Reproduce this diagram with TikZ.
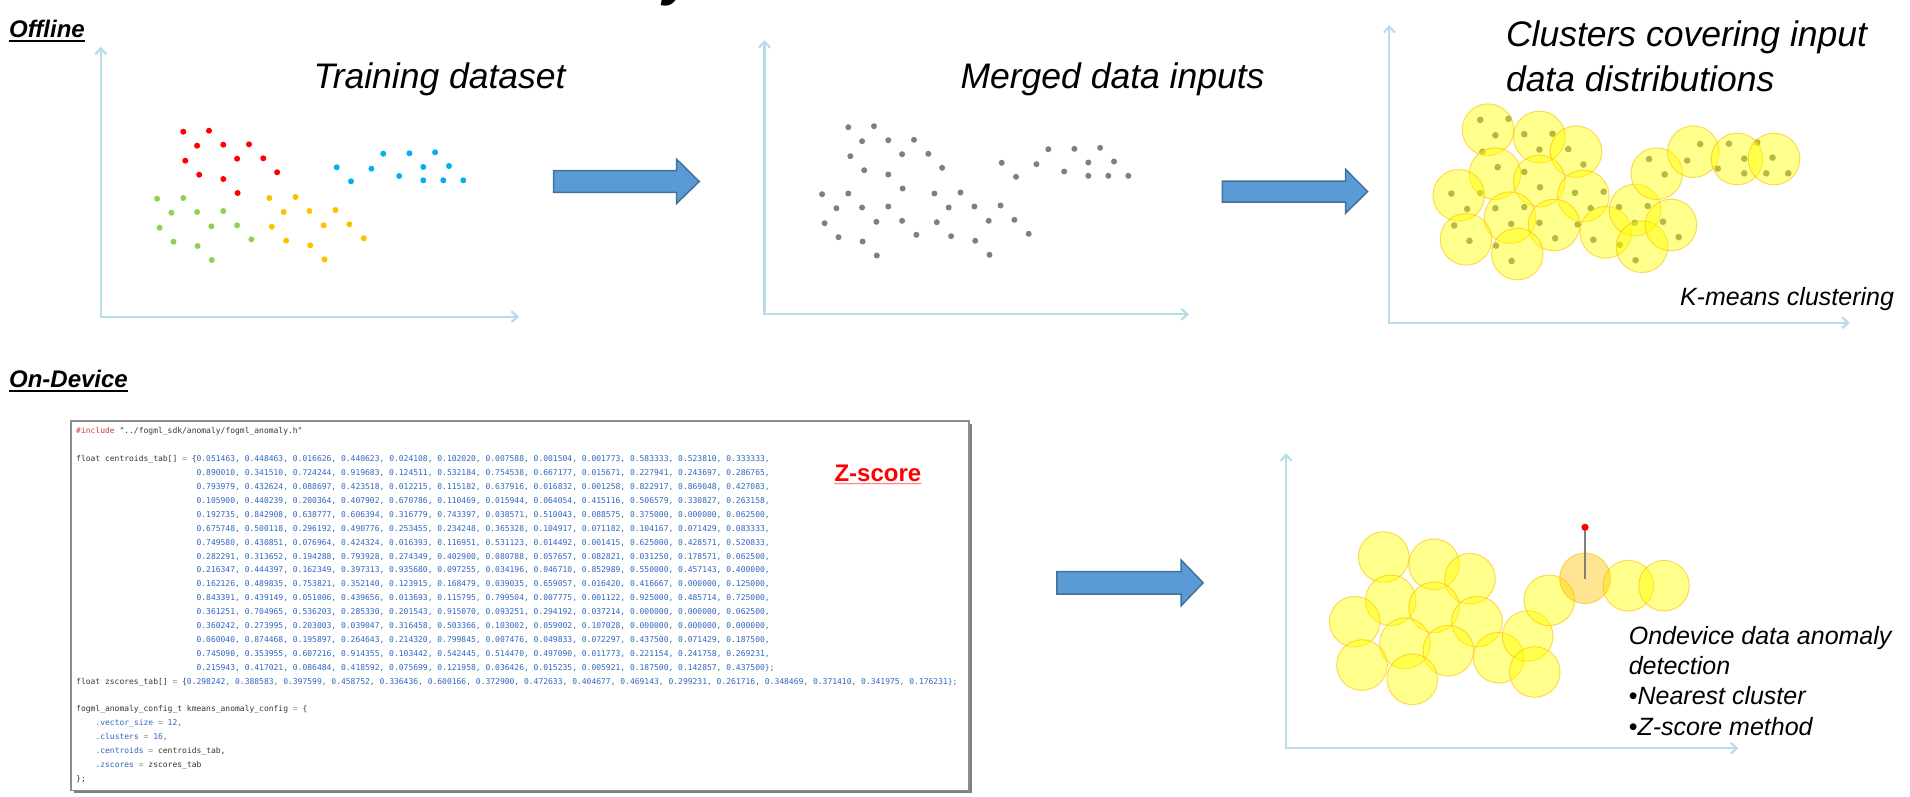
\documentclass[tikz,border=0pt]{standalone}
\usepackage{fontspec}
\setmainfont{Liberation Sans}
\newfontfamily\codefont{DejaVu Sans Mono}
\usetikzlibrary{arrows.meta,shadows,decorations.pathmorphing}

\definecolor{axiscol}{RGB}{183,222,232}
\definecolor{arrfill}{RGB}{91,155,213}
\definecolor{arrdraw}{RGB}{65,113,156}
\definecolor{dotred}{RGB}{255,0,0}
\definecolor{dotblue}{RGB}{0,176,240}
\definecolor{dotgreen}{RGB}{146,208,80}
\definecolor{dotorange}{RGB}{255,192,0}
\definecolor{dotgray}{RGB}{127,127,127}
\definecolor{codeblue}{RGB}{48,102,190}
\definecolor{codedark}{RGB}{55,55,55}
\definecolor{codegray}{RGB}{140,140,140}
\definecolor{codered}{RGB}{215,60,60}
\definecolor{clusterfill}{RGB}{255,255,0}
\definecolor{clusterborder}{RGB}{255,192,0}
\definecolor{hilite}{RGB}{255,192,0}

\newcommand\blockarrow[8]{%
  \draw[blockarr] (#1,#4) -- (#2,#4) -- (#2,#6) -- (#3,#8) -- (#2,#7) -- (#2,#5) -- (#1,#5) -- cycle;}

\newcommand\dotpattern[4]{%
  \foreach \p in {(183.3,131.7),(209.0,130.7),(197.1,145.7),(223.3,144.7),(249.0,144.3),(185.3,160.7),(237.1,158.7),(263.3,158.3),(199.2,174.7),(223.3,179),(277.1,172.3),(237.6,193)}
    \fill[#1] \p circle[radius=3];
  \foreach \p in {(383.3,153.7),(409.4,153.3),(435.1,152.3),(336.7,167.3),(371.4,168.7),(423.3,167),(449.0,166),(351.0,181.3),(399.2,176),(423.3,180.3),(443.3,180.3),(463.3,180.3)}
    \fill[#2] \p circle[radius=3];
  \foreach \p in {(157.1,198.7),(183.3,198),(171.4,212.7),(197.1,212),(223.3,211),(159.6,227.7),(211.4,226.3),(237.1,225.3),(173.5,241.7),(197.6,246),(251.4,239.3),(211.8,260)}
    \fill[#3] \p circle[radius=3];
  \foreach \p in {(269.4,198),(295.5,197),(283.7,212),(309.4,211),(335.5,210),(271.8,226.7),(323.7,225.3),(349.4,224.3),(286.1,240.7),(310.2,245.3),(363.7,238.3),(324.5,259.3)}
    \fill[#4] \p circle[radius=3];
}

\newcommand\codeln[4]{\node[codetext] (#1) at (#2,#3) {#4};}

\begin{document}
\begin{tikzpicture}[x=1pt,y=-1pt,
  axis/.style={draw=axiscol, line width=2.2pt, line join=miter,
    {Straight Barb[length=6pt,width=11pt]}-{Straight Barb[length=6pt,width=11pt]}},
  blockarr/.style={fill=arrfill, draw=arrdraw, line width=1.5pt, line join=miter},
  bigtext/.style={anchor=base west, inner sep=0pt, font=\fontsize{35.5}{42}\selectfont\itshape},
  smalltext/.style={anchor=base west, inner sep=0pt, font=\fontsize{25}{30}\selectfont\itshape},
  headtext/.style={anchor=base west, inner sep=0pt, font=\fontsize{24}{28}\selectfont\bfseries\itshape},
  codetext/.style={anchor=base west, inner sep=0pt, font=\codefont\fontsize{8}{10}\selectfont, text=codeblue},
  cluster/.style={fill=clusterfill, fill opacity=0.45, draw=clusterborder, draw opacity=0.6, line width=1pt},
  hicluster/.style={fill=hilite, fill opacity=0.42, draw=clusterborder, draw opacity=0.6, line width=1pt},
  codebox/.style={draw=codegray, line width=1.6pt, fill=white, inner sep=0pt,
    drop shadow={shadow xshift=3pt, shadow yshift=-3pt, opacity=0.5, fill=black}}
]
\useasboundingbox (0,0) rectangle (1910,796);
\fill[white] (0,0) rectangle (1910,796);

% cut-off title fragment (the reference shows only its lowest part)
\node[anchor=base west, inner sep=0pt, font=\fontsize{56}{66}\selectfont\bfseries\itshape] (titlefrag) at (663,-5.5) {y};

% headers
\node[headtext] (offline) at (9,37.3) {Offline};
\draw[line width=2pt] ([yshift=-3.4pt]offline.base west) -- ([yshift=-3.4pt]offline.base east);
\node[headtext] (ondevice) at (8.9,387.7) {On-Device};
\draw[line width=2pt] ([yshift=-3.4pt]ondevice.base west) -- ([yshift=-3.4pt]ondevice.base east);

% ---------- panel 1 ----------
\coordinate (o1) at (100.8,316.7);
\coordinate (t1) at (100.8,46.7);
\coordinate (r1) at (519,316.7);
\draw[axis] (t1) -- (o1) -- (r1);
\node[bigtext] (train) at (313.5,88.3) {Training dataset};
\dotpattern{dotred}{dotblue}{dotgreen}{dotorange}

\blockarrow{553.5}{676.7}{699.2}{170.7}{192.3}{159.3}{203.3}{181.5}

% ---------- panel 2 ----------
\coordinate (o2) at (764.5,314.3);
\coordinate (t2) at (764.5,40);
\coordinate (r2) at (1189,314.3);
\draw[axis] (t2) -- (o2) -- (r2);
\node[bigtext] (merged) at (960.4,88.3) {Merged data inputs};
\begin{scope}[shift={(665,-4.5)}]
  \dotpattern{dotgray}{dotgray}{dotgray}{dotgray}
\end{scope}

\blockarrow{1222.4}{1345.5}{1367.6}{181.2}{202}{169.3}{213.3}{191.5}

% ---------- panel 3 ----------
\coordinate (o3) at (1389.3,322.7);
\coordinate (t3) at (1389.3,25);
\coordinate (r3) at (1849.7,322.7);
\draw[axis] (t3) -- (o3) -- (r3);
\node[bigtext] (clus1) at (1505.8,46.5) {Clusters covering input};
\node[bigtext] (clus2) at (1505.8,91) {data distributions};
\node[smalltext] (kmeans) at (1679.8,305) {K-means clustering};
\begin{scope}[shift={(1278.6,-25)}, scale=1.1]
  \dotpattern{dotgray}{dotgray}{dotgray}{dotgray}
\end{scope}
\foreach \c in {(1488,129.7),(1539.3,137),(1576,151.7),(1495,173.7),(1539.3,181),(1458.7,195.3),(1583.3,196),(1510,217.7),(1554,225),(1466,239.3),(1517.3,254),(1605.7,232.3),(1635,210),(1642,246.7),(1671,225),(1656.7,173.7),(1693.3,151.7),(1737,159),(1774,159)}
  \path[cluster] \c circle[radius=25.8];

% ---------- code box ----------
\node[codebox, anchor=north west, minimum width=898pt, minimum height=369.5pt] (code) at (70.2,420) {};
\codeln{c0}{76}{433.9}{\textcolor{codered}{\#include} \textcolor{codedark}{"../fogml\_sdk/anomaly/fogml\_anomaly.h"}}
\codeln{c2}{76}{461.7}{\textcolor{codedark}{float centroids\_tab[]} \textcolor{codegray}{=} \textcolor{codedark}{\{}0.051463, 0.448463, 0.016626, 0.440623, 0.024108, 0.102020, 0.007588, 0.001504, 0.001773, 0.583333, 0.523810, 0.333333,}
\codeln{c3}{196.4}{475.6}{0.890010, 0.341510, 0.724244, 0.919683, 0.124511, 0.532184, 0.754538, 0.667177, 0.015671, 0.227941, 0.243697, 0.286765,}
\codeln{c4}{196.4}{489.5}{0.793979, 0.432624, 0.088697, 0.423518, 0.012215, 0.115182, 0.637916, 0.016832, 0.001258, 0.822917, 0.869048, 0.427083,}
\codeln{c5}{196.4}{503.4}{0.105900, 0.440239, 0.200364, 0.407902, 0.670786, 0.110469, 0.015944, 0.064054, 0.415116, 0.506579, 0.330827, 0.263158,}
\codeln{c6}{196.4}{517.3}{0.192735, 0.842908, 0.638777, 0.606394, 0.316779, 0.743397, 0.038571, 0.510043, 0.088575, 0.375000, 0.000000, 0.062500,}
\codeln{c7}{196.4}{531.2}{0.675748, 0.500118, 0.296192, 0.490776, 0.253455, 0.234248, 0.365328, 0.104917, 0.071182, 0.104167, 0.071429, 0.083333,}
\codeln{c8}{196.4}{545.1}{0.749580, 0.430851, 0.076964, 0.424324, 0.016393, 0.116951, 0.531123, 0.014492, 0.001415, 0.625000, 0.428571, 0.520833,}
\codeln{c9}{196.4}{559.0}{0.282291, 0.313652, 0.194288, 0.793928, 0.274349, 0.402900, 0.080788, 0.057657, 0.082821, 0.031250, 0.178571, 0.062500,}
\codeln{c10}{196.4}{572.9}{0.216347, 0.444397, 0.162349, 0.397313, 0.935680, 0.097255, 0.034196, 0.046710, 0.852989, 0.550000, 0.457143, 0.400000,}
\codeln{c11}{196.4}{586.8}{0.162126, 0.489835, 0.753821, 0.352140, 0.123915, 0.168479, 0.039035, 0.659057, 0.016420, 0.416667, 0.000000, 0.125000,}
\codeln{c12}{196.4}{600.7}{0.843391, 0.439149, 0.051006, 0.439656, 0.013693, 0.115795, 0.799504, 0.007775, 0.001122, 0.925000, 0.485714, 0.725000,}
\codeln{c13}{196.4}{614.6}{0.361251, 0.704965, 0.536203, 0.285330, 0.201543, 0.915070, 0.093251, 0.294192, 0.037214, 0.000000, 0.000000, 0.062500,}
\codeln{c14}{196.4}{628.5}{0.360242, 0.273995, 0.203003, 0.039047, 0.316458, 0.503366, 0.103002, 0.059002, 0.107028, 0.000000, 0.000000, 0.000000,}
\codeln{c15}{196.4}{642.4}{0.060040, 0.874468, 0.195897, 0.264643, 0.214320, 0.799845, 0.007476, 0.049833, 0.072297, 0.437500, 0.071429, 0.187500,}
\codeln{c16}{196.4}{656.3}{0.745090, 0.353955, 0.607216, 0.914355, 0.103442, 0.542445, 0.514470, 0.497090, 0.011773, 0.221154, 0.241758, 0.269231,}
\codeln{c17}{196.4}{670.2}{0.215943, 0.417021, 0.086484, 0.418592, 0.075699, 0.121958, 0.036426, 0.015235, 0.005921, 0.187500, 0.142857, 0.437500\};}
\codeln{c18}{76}{684.1}{\textcolor{codedark}{float zscores\_tab[]} \textcolor{codegray}{=} \textcolor{codedark}{\{}0.298242, 0.388583, 0.397599, 0.458752, 0.336436, 0.600166, 0.372900, 0.472633, 0.404677, 0.469143, 0.299231, 0.261716, 0.348469, 0.371410, 0.341975, 0.176231\};}
\codeln{c20}{76}{711.9}{\textcolor{codedark}{fogml\_anomaly\_config\_t kmeans\_anomaly\_config} \textcolor{codegray}{=} \textcolor{codedark}{\{}}
\codeln{c21}{95.3}{725.8}{.vector\_size \textcolor{codegray}{=} 12,}
\codeln{c22}{95.3}{739.7}{.clusters \textcolor{codegray}{=} 16,}
\codeln{c23}{95.3}{753.6}{.centroids \textcolor{codegray}{=} \textcolor{codedark}{centroids\_tab,}}
\codeln{c24}{95.3}{767.5}{.zscores \textcolor{codegray}{=} \textcolor{codedark}{zscores\_tab}}
\codeln{c25}{76}{781.4}{\textcolor{codedark}{\};}}

\node[anchor=base west, inner sep=0pt, font=\fontsize{24}{28}\selectfont\bfseries, text=red] (zscore) at (834.3,481) {Z-score};
\draw[red!55, line width=0.7pt, decorate, decoration={snake, amplitude=0.5pt, segment length=2.5pt}]
  ([yshift=-2.6pt]zscore.base west) -- ([yshift=-2.6pt]zscore.base east);

\blockarrow{1056.9}{1181.1}{1203.1}{571.7}{594}{560}{605.7}{582.8}

% ---------- panel 4 ----------
\coordinate (o4) at (1286.1,748.3);
\coordinate (t4) at (1286.1,453.3);
\coordinate (r4) at (1738.3,748.3);
\draw[axis] (t4) -- (o4) -- (r4);
\foreach \c in {(1383.7,557),(1434,564.3),(1470,578.7),(1390.7,600.3),(1434,607.3),(1354.7,621.7),(1477,621.7),(1405,643.3),(1448.3,650.7),(1362,665),(1412.3,679.3),(1498.7,657.7),(1527.7,636),(1534.7,672),(1549.3,600.3),(1628.3,585.7),(1664,585.7)}
  \path[cluster] \c circle[radius=25.3];
\path[hicluster] (1585,578.3) circle[radius=25.3];
\coordinate (nearest) at (1585,579);
\node[circle, fill=red, inner sep=0pt, minimum size=7.2pt] (anomaly) at (1585,527.3) {};
\draw[gray, line width=1.2pt] (anomaly) -- (nearest);

\node[smalltext] (od1) at (1628.6,644) {Ondevice data anomaly};
\node[smalltext] (od2) at (1628.6,674.3) {detection};
\node[smalltext] (od3) at (1628.6,704.6) {{\upshape •}Nearest cluster};
\node[smalltext] (od4) at (1628.6,735) {{\upshape •}Z-score method};
\end{tikzpicture}
\end{document}
